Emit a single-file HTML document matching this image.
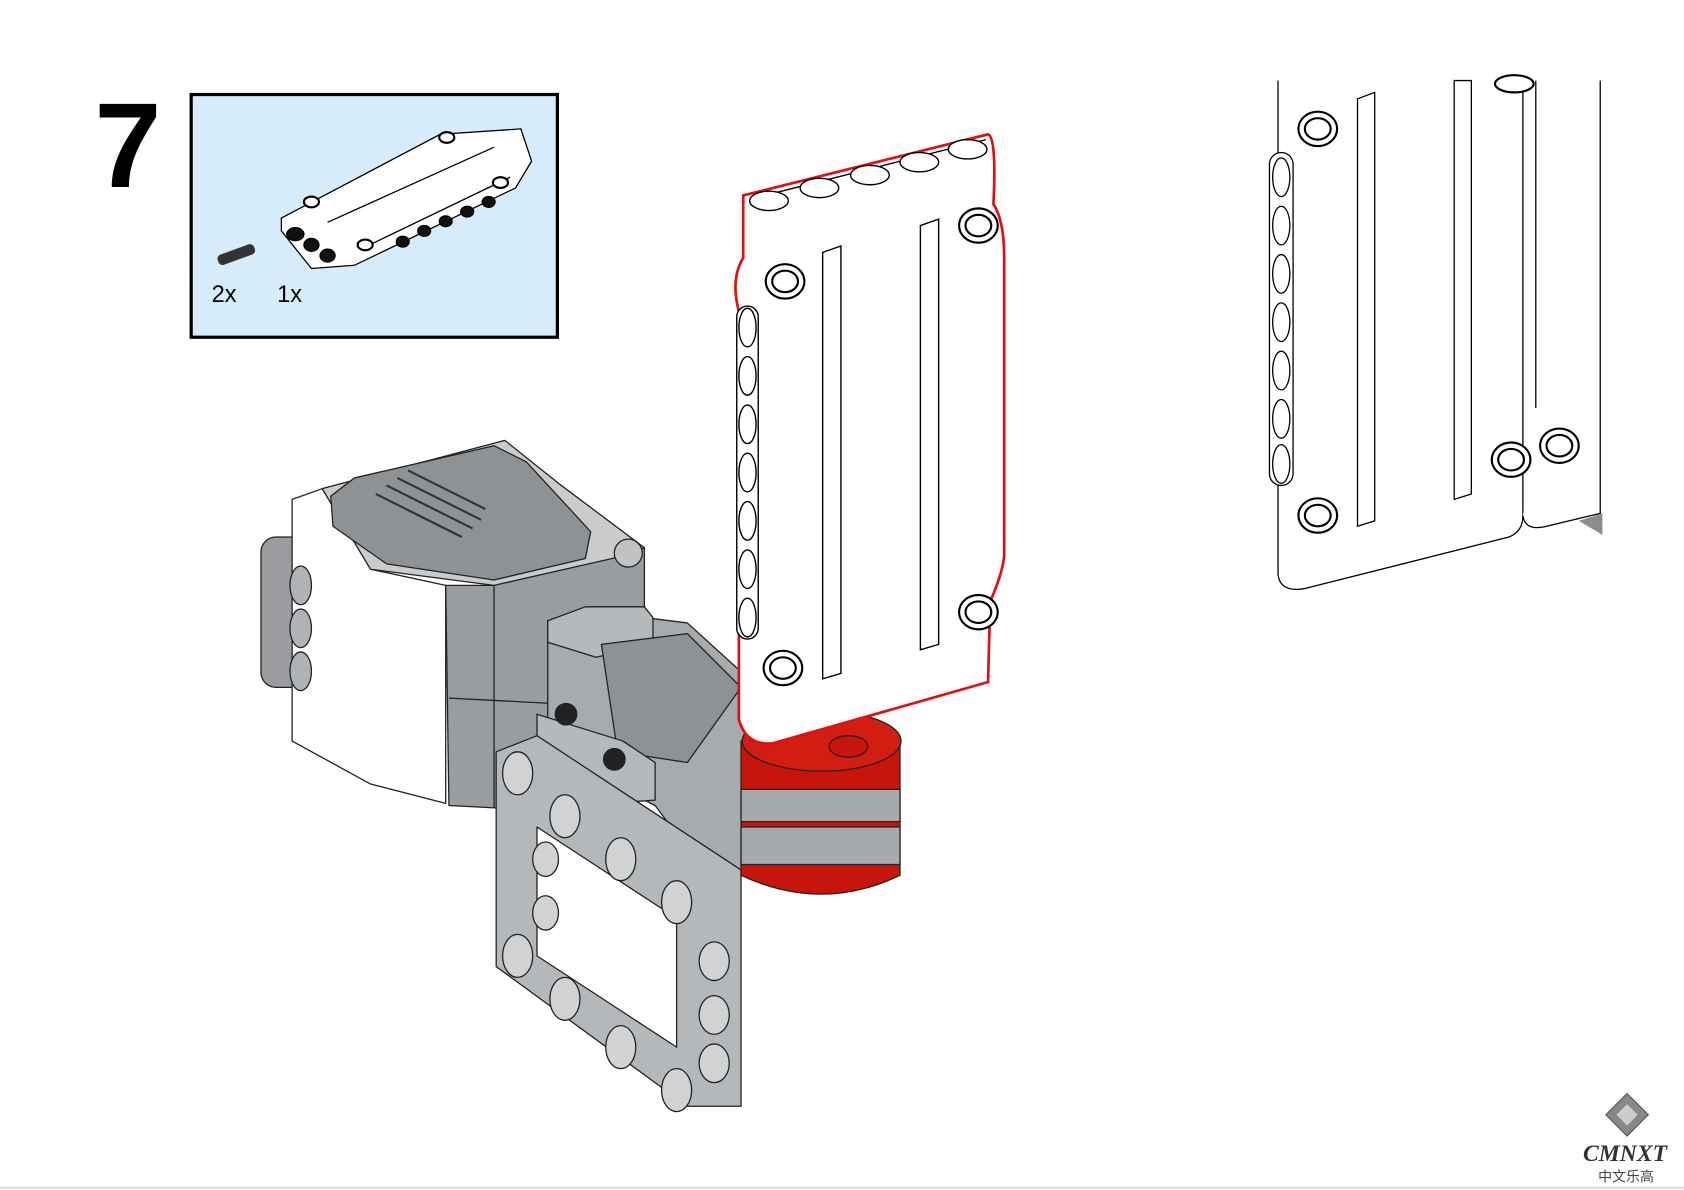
<!DOCTYPE html>
<html><head><meta charset="utf-8"><style>
html,body{margin:0;padding:0;background:#fff;width:1684px;height:1190px;overflow:hidden}
svg{display:block}
</style></head><body>
<svg width="1684" height="1190" viewBox="0 0 1568 1108" xmlns="http://www.w3.org/2000/svg" font-family="Liberation Sans, sans-serif">
<rect width="1568" height="1108" fill="#fff"/>
<line x1="0" y1="1106" x2="1568" y2="1106" stroke="#ddd" stroke-width="2"/>
<text x="88" y="174" font-size="112" font-weight="bold">7</text>
<!-- parts box -->
<rect x="178" y="88" width="341" height="226" fill="#d6ecfb" stroke="#000" stroke-width="3"/>
<g stroke="#000" stroke-width="1.2">
<polygon points="262,203 410,125 485,120 495,150 480,175 330,247 290,250 262,215" fill="#fff"/>
<line x1="305" y1="207" x2="460" y2="137"/><line x1="340" y1="230" x2="475" y2="165"/>
<g fill="#111"><ellipse cx="275" cy="218" rx="8" ry="6"/><ellipse cx="290" cy="228" rx="7" ry="6"/><ellipse cx="305" cy="238" rx="7" ry="6"/>
<ellipse cx="375" cy="225" rx="6" ry="5"/><ellipse cx="395" cy="215" rx="6" ry="5"/><ellipse cx="415" cy="206" rx="6" ry="5"/><ellipse cx="435" cy="197" rx="6" ry="5"/><ellipse cx="455" cy="188" rx="6" ry="5"/></g>
<ellipse cx="290" cy="188" rx="7" ry="5" fill="#fff" stroke-width="2"/><ellipse cx="416" cy="128" rx="7" ry="5" fill="#fff" stroke-width="2"/>
<ellipse cx="466" cy="170" rx="7" ry="5" fill="#fff" stroke-width="2"/><ellipse cx="340" cy="228" rx="7" ry="5" fill="#fff" stroke-width="2"/>
</g>
<rect x="202" y="232" width="36" height="10" rx="4" fill="#333" transform="rotate(-20 220 237)"/>
<text x="197" y="281" font-size="22">2x</text><text x="258" y="281" font-size="22">1x</text>
<!-- motor -->
<g stroke="#222" stroke-width="1.2" stroke-linejoin="round">
<rect x="243" y="500" width="45" height="140" rx="14" fill="#9a9c9f"/>
<polygon points="272,465 300,455 345,530 415,545 415,748 345,730 272,690" fill="#fff"/>
<g fill="#b0b3b6"><ellipse cx="280" cy="545" rx="10" ry="18"/><ellipse cx="280" cy="585" rx="10" ry="18"/><ellipse cx="280" cy="625" rx="10" ry="18"/></g>
<polygon points="415,545 460,545 515,520 570,500 600,510 600,580 515,580 515,755 418,750" fill="#9a9da0"/>
<line x1="460" y1="545" x2="460" y2="752"/><line x1="418" y1="650" x2="515" y2="655"/>
<polygon points="300,455 470,410 520,450 600,510 570,520 460,545 345,530" fill="#c9cbcd"/>
<polygon points="308,462 330,445 460,415 490,430 550,495 545,520 460,540 360,525 310,490" fill="#8f9295"/>
<g stroke="#333" stroke-width="2"><line x1="350" y1="460" x2="430" y2="500"/><line x1="360" y1="452" x2="440" y2="492"/><line x1="370" y1="445" x2="448" y2="484"/><line x1="380" y1="438" x2="452" y2="474"/></g>
<circle cx="585" cy="515" r="13" fill="#c0c2c4"/>
<!-- arm -->
<polygon points="510,578 600,575 640,580 695,630 715,720 715,810 690,810 640,790 610,750 510,700" fill="#a8abae"/>
<polygon points="510,578 545,565 600,565 608,575 608,600 555,612 510,598" fill="#b6b9bb"/>
<polygon points="560,600 640,590 690,640 640,710 575,700" fill="#8f9295"/>
<polygon points="500,665 580,690 610,710 610,745 540,750 500,720" fill="#b6b9bb"/>
<circle cx="527" cy="665" r="10" fill="#222"/><circle cx="572" cy="707" r="10" fill="#222"/>
<!-- frame -->
<path d="M462,700 L500,685 L690,810 L690,1030 L640,1030 L462,900 Z M500,770 L500,890 L630,975 L630,855 Z" fill="#b5b8ba" fill-rule="evenodd"/>
<g fill="#d0d2d3"><ellipse cx="482" cy="720" rx="14" ry="20"/><ellipse cx="526" cy="760" rx="14" ry="20"/><ellipse cx="578" cy="800" rx="14" ry="20"/><ellipse cx="630" cy="840" rx="14" ry="20"/>
<ellipse cx="482" cy="890" rx="14" ry="20"/><ellipse cx="526" cy="930" rx="14" ry="20"/><ellipse cx="578" cy="975" rx="14" ry="20"/><ellipse cx="630" cy="1015" rx="14" ry="20"/>
<ellipse cx="665" cy="895" rx="14" ry="18"/><ellipse cx="665" cy="945" rx="14" ry="18"/><ellipse cx="665" cy="990" rx="14" ry="18"/>
<ellipse cx="508" cy="800" rx="12" ry="16"/><ellipse cx="508" cy="850" rx="12" ry="16"/></g>
<!-- red hub -->
<path d="M690,690 L690,815 Q765,850 838,815 L838,690 Z" fill="#c8150b"/>
<rect x="690" y="735" width="148" height="30" fill="#a7aaad"/>
<rect x="690" y="770" width="148" height="35" fill="#a7aaad"/>
<ellipse cx="765" cy="690" rx="74" ry="28" fill="#d41d12"/>
<ellipse cx="790" cy="695" rx="18" ry="10" fill="#c8150b"/>
</g>
<!-- main white panel -->
<g stroke="#000" stroke-width="1.3">
<path d="M692,182 L920,125 Q928,128 925,190 Q935,205 935,240 L935,515 Q935,530 922,560 L920,635 L720,692 Q695,695 688,670 L688,290 Q680,260 692,240 Z" fill="#fff" stroke="#e01010" stroke-width="2.5"/>
<line x1="700" y1="185" x2="918" y2="130"/>
<g fill="#fff"><ellipse cx="716" cy="187" rx="18" ry="9"/><ellipse cx="763" cy="175" rx="18" ry="9"/><ellipse cx="810" cy="163" rx="18" ry="9"/><ellipse cx="856" cy="151" rx="18" ry="9"/><ellipse cx="901" cy="139" rx="18" ry="9"/></g>
<rect x="686" y="285" width="20" height="310" rx="10" fill="#fff"/>
<g fill="#fff"><ellipse cx="696" cy="305" rx="8" ry="18"/><ellipse cx="696" cy="350" rx="8" ry="18"/><ellipse cx="696" cy="395" rx="8" ry="18"/><ellipse cx="696" cy="440" rx="8" ry="18"/><ellipse cx="696" cy="485" rx="8" ry="18"/><ellipse cx="696" cy="530" rx="8" ry="18"/><ellipse cx="696" cy="575" rx="8" ry="18"/></g>
<g fill="#fff" stroke-width="2"><ellipse cx="731" cy="262" rx="18" ry="16"/><ellipse cx="731" cy="262" rx="12" ry="10"/>
<ellipse cx="911" cy="210" rx="18" ry="16"/><ellipse cx="911" cy="210" rx="12" ry="10"/>
<ellipse cx="729" cy="622" rx="18" ry="16"/><ellipse cx="729" cy="622" rx="12" ry="10"/>
<ellipse cx="911" cy="570" rx="18" ry="16"/><ellipse cx="911" cy="570" rx="12" ry="10"/></g>
<polygon points="766,235 783,229 783,627 766,632" fill="#fff"/>
<polygon points="857,210 874,204 874,600 857,605" fill="#fff"/>
</g>
<!-- right detail -->
<g stroke="#000" stroke-width="1.2" fill="#fff">
<path d="M1190,75 L1190,535 Q1192,552 1215,548 L1405,500 Q1418,495 1418,480 L1418,75"/>
<path d="M1418,480 Q1420,495 1440,490 L1490,478 L1490,75" />
<line x1="1430" y1="75" x2="1430" y2="380"/>
<rect x="1182" y="142" width="22" height="310" rx="11"/>
<g><ellipse cx="1193" cy="165" rx="8" ry="18"/><ellipse cx="1193" cy="210" rx="8" ry="18"/><ellipse cx="1193" cy="255" rx="8" ry="18"/><ellipse cx="1193" cy="300" rx="8" ry="18"/><ellipse cx="1193" cy="345" rx="8" ry="18"/><ellipse cx="1193" cy="390" rx="8" ry="18"/><ellipse cx="1193" cy="432" rx="8" ry="18"/></g>
<g stroke-width="2"><ellipse cx="1227" cy="120" rx="18" ry="16"/><ellipse cx="1227" cy="120" rx="12" ry="10"/>
<ellipse cx="1227" cy="480" rx="18" ry="16"/><ellipse cx="1227" cy="480" rx="12" ry="10"/>
<ellipse cx="1407" cy="428" rx="18" ry="16"/><ellipse cx="1407" cy="428" rx="12" ry="10"/>
<ellipse cx="1452" cy="415" rx="18" ry="16"/><ellipse cx="1452" cy="415" rx="12" ry="10"/>
<ellipse cx="1410" cy="78" rx="18" ry="8"/></g>
<polygon points="1264,92 1280,86 1280,485 1264,490"/>
<polygon points="1354,75 1370,75 1370,460 1354,465"/>
<polygon points="1470,485 1492,478 1492,498" fill="#8a8d90" stroke="none"/>
</g>
<!-- logo -->
<g transform="translate(1515,1038) rotate(45)"><rect x="-14" y="-14" width="28" height="28" fill="#888" stroke="#555"/><rect x="-7" y="-7" width="14" height="14" fill="#ccc"/></g>
<text x="1474" y="1081" font-size="22" font-weight="bold" font-style="italic" font-family="Liberation Serif, serif" fill="#333">CMNXT</text>
<text x="1488" y="1100" font-size="13" font-family="Liberation Sans, 'Noto Sans CJK SC', sans-serif" fill="#444">中文乐高</text>
</svg>
</body></html>
